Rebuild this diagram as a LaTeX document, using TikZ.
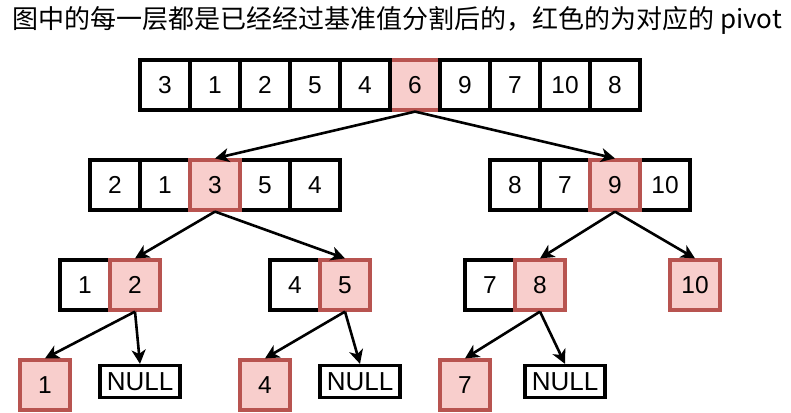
\documentclass[tikz,border=0pt]{standalone}
\usepackage{fontspec}
\setmainfont{Liberation Sans}
\newfontfamily\cjk{Noto Sans CJK SC}
\usetikzlibrary{arrows.meta}
\definecolor{pivfill}{HTML}{F8CECC}
\definecolor{pivline}{HTML}{B85450}
\tikzset{
  cell/.style={draw=black, line width=3.2pt, fill=white, minimum width=50pt, minimum height=50pt, inner sep=0pt, font=\fontsize{24.5}{28}\selectfont},
  pcell/.style={cell, draw=pivline, fill=pivfill},
  nullbox/.style={draw=black, line width=3.2pt, fill=white, minimum width=80pt, minimum height=32pt, inner sep=0pt, font=\fontsize{26}{28}\selectfont},
  link/.style={line width=2.6pt, -{Stealth[length=14pt, width=14pt, inset=4pt]}},
}
\begin{document}
\begin{tikzpicture}[x=1pt, y=-1pt]
\useasboundingbox (0,0) rectangle (791,412);
\node[anchor=west, inner sep=0pt, font=\cjk\fontsize{26}{30}\selectfont] (title) at (12,20) {图中的每一层都是已经经过基准值分割后的，红色的为对应的 pivot};
% top row (pivot drawn first so that its sides stay black)
\node[pcell] (t6) at (415,85) {6};
\node[cell] (t1) at (165,85) {3};
\node[cell] (t2) at (215,85) {1};
\node[cell] (t3) at (265,85) {2};
\node[cell] (t4) at (315,85) {5};
\node[cell] (t5) at (365,85) {4};
\node[cell] (t7) at (465,85) {9};
\node[cell] (t8) at (515,85) {7};
\node[cell] (t9) at (565,85) {10};
\node[cell] (t10) at (615,85) {8};
% second row left
\node[cell] (a1) at (115,185) {2};
\node[cell] (a2) at (165,185) {1};
\node[cell] (a4) at (265,185) {5};
\node[cell] (a5) at (315,185) {4};
\node[pcell] (a3) at (215,185) {3};
% second row right
\node[cell] (b1) at (515,185) {8};
\node[cell] (b2) at (565,185) {7};
\node[cell] (b4) at (665,185) {10};
\node[pcell] (b3) at (615,185) {9};
% third row
\node[cell] (c1) at (85,285) {1};
\node[pcell] (c2) at (135,285) {2};
\node[cell] (d1) at (295,285) {4};
\node[pcell] (d2) at (345,285) {5};
\node[cell] (e1) at (490,285) {7};
\node[pcell] (e2) at (540,285) {8};
\node[pcell] (f1) at (695,285) {10};
% fourth row
\node[pcell] (g1) at (45,385) {1};
\node[nullbox] (g2) at (140,381.5) {NULL};
\node[pcell] (h1) at (265,385) {4};
\node[nullbox] (h2) at (360,381.5) {NULL};
\node[pcell] (i1) at (465,385) {7};
\node[nullbox] (i2) at (565,381.5) {NULL};
% links
\draw[link] (t6.south) -- (a3.north);
\draw[link] (t6.south) -- (b3.north);
\draw[link] (a3.south) -- (c2.north);
\draw[link] (a3.south) -- (d2.north);
\draw[link] (b3.south) -- (e2.north);
\draw[link] (b3.south) -- (f1.north);
\draw[link] (c2.south) -- (g1.north);
\draw[link] (c2.south) -- (g2.north);
\draw[link] (d2.south) -- (h1.north);
\draw[link] (d2.south) -- (h2.north);
\draw[link] (e2.south) -- (i1.north);
\draw[link] (e2.south) -- (i2.north);
\end{tikzpicture}
\end{document}
